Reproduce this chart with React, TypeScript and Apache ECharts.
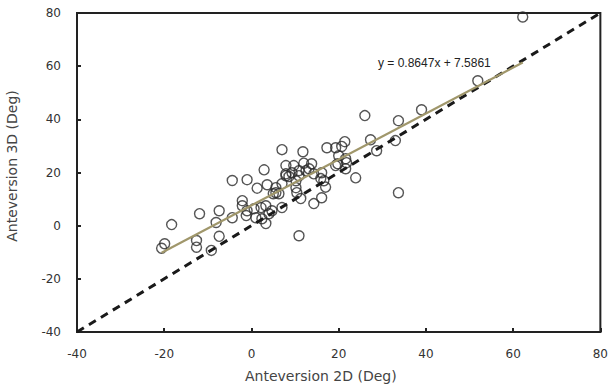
import React, { useEffect, useRef } from "react";
import * as echarts from "echarts";

const xTicks = { min: -40, max: 80, interval: 20 };
const yTicks = { min: -40, max: 80, interval: 20 };

const points: [number, number][] = [
  [-20.6, -8.5], [-19.9, -6.8], [-18.3, 0.4], [-12.6, -5.6], [-12.6, -8.1], [-11.9, 4.5],
  [-9.2, -9.3], [-8.1, 1.2], [-7.4, 5.6], [-7.4, -4.0], [-4.4, 3.0], [-4.4, 17.0],
  [-2.1, 9.4], [-2.1, 7.5], [-1.0, 17.3], [-1.0, 5.6], [-1.2, 3.8], [0.6, 6.4],
  [1.0, 3.0], [1.3, 14.1], [2.2, 6.8], [2.4, 2.6], [2.9, 21.0], [3.3, 7.5],
  [3.3, 0.8], [3.6, 15.4], [4.0, 4.5], [4.7, 5.6], [5.6, 14.3], [5.6, 12.4],
  [5.0, 12.0], [6.3, 12.0], [7.0, 28.6], [7.0, 15.8], [7.0, 6.8], [7.9, 22.6],
  [7.9, 19.5], [7.9, 18.8], [8.6, 18.5], [9.3, 19.9], [9.7, 22.6], [10.2, 14.3],
  [10.2, 16.9], [10.4, 12.4], [10.9, 20.7], [10.9, 18.8], [10.9, -3.8], [11.3, 10.2],
  [11.8, 27.8], [12.0, 23.5], [12.5, 20.7], [13.2, 21.4], [13.8, 23.3], [14.3, 19.5],
  [14.3, 8.3], [15.9, 17.7], [16.1, 19.9], [16.1, 10.5], [16.6, 16.9], [17.0, 14.5],
  [17.3, 29.3], [19.3, 29.3], [19.3, 22.6], [19.8, 23.3], [20.0, 26.3], [20.7, 29.8],
  [21.4, 31.6], [21.6, 25.2], [21.6, 21.4], [21.8, 23.7], [23.9, 18.0], [26.0, 41.4],
  [27.3, 32.3], [28.7, 28.2], [33.0, 32.0], [33.7, 39.5], [33.7, 12.4], [39.0, 43.6],
  [51.9, 54.5], [62.2, 78.5],
];

const identityLine: [number, number][] = [[-40, -40], [80, 80]];
const regressionLine: [number, number][] = [[-20.6, -10.2], [62.2, 61.4]];
const equationText = "y = 0.8647x + 7.5861";
const xName = "Anteversion 2D (Deg)";
const yName = "Anteversion 3D (Deg)";

const FONT = "DejaVu Sans";

export default function App() {
  const ref = useRef<HTMLDivElement>(null);
  useEffect(() => {
    if (!ref.current) return;
    const chart = echarts.init(ref.current, undefined, { renderer: "svg" });
    const axisCommon = {
      type: "value" as const,
      axisLine: { show: true, onZero: false, lineStyle: { color: "#222", width: 2 } },
      axisTick: { show: true, inside: true, length: 4, lineStyle: { color: "#222", width: 2 } },
      splitLine: { show: false },
      axisLabel: { color: "#333", fontSize: 12, fontFamily: FONT, margin: 16 },
    };
    chart.setOption({
      animation: false,
      backgroundColor: "#fff",
      grid: { left: 77, right: 8, top: 13, bottom: 57, show: true, borderColor: "#222", borderWidth: 2 },
      xAxis: { ...axisCommon, ...xTicks },
      yAxis: { ...axisCommon, ...yTicks },
      series: [
        {
          type: "scatter",
          data: points,
          symbol: "circle",
          symbolSize: 10,
          itemStyle: { color: "rgba(0,0,0,0)", borderColor: "#2a2a2a", borderWidth: 1.4 },
          z: 2,
        },
        {
          type: "line",
          data: identityLine,
          symbol: "none",
          lineStyle: { color: "#1a1a1a", width: 3, type: [8, 6] },
          z: 3,
        },
        {
          type: "line",
          data: regressionLine,
          symbol: "none",
          lineStyle: { color: "#a0976b", width: 2.2 },
          z: 4,
        },
      ],
      graphic: [
        {
          type: "text",
          left: 245,
          top: 369,
          style: { text: xName, fontSize: 14, fontFamily: FONT, fill: "#444" },
        },
        {
          type: "text",
          x: 12,
          y: 166,
          rotation: Math.PI / 2,
          style: { text: yName, fontSize: 14, fontFamily: FONT, fill: "#444", align: "center", verticalAlign: "middle" },
        },
        {
          type: "text",
          x: 378,
          y: 63,
          style: { text: equationText, fontSize: 12, fontFamily: "Liberation Sans", fill: "#222", verticalAlign: "middle" },
        },
      ],
    });
    return () => chart.dispose();
  }, []);
  return <div ref={ref} style={{ position: "fixed", left: 0, top: 0, width: 611, height: 389 }} />;
}
